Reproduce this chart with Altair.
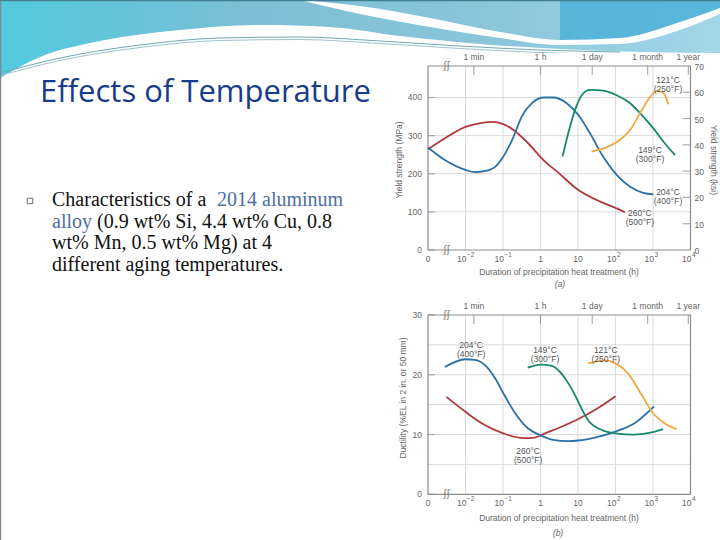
import altair as alt
import pandas as pd

# ------------------------------------------------------------------ data
# Heat-treatment time is expressed in decades of hours (log10 t);
# -3 stands for t = 0 at the left end of the broken time axis.
TEMPS_C = ["260°C", "204°C", "149°C", "121°C"]
TEMPS_F = ["(500°F)", "(400°F)", "(300°F)", "(250°F)"]
COLORS = ["#b0383d", "#2b70a6", "#16896d", "#f1a946"]

# (a) yield strength, MPa
YS_260_T = [-3.0, -2.55, -2.0, -1.6, -1.3, -0.99, -0.72, -0.33, 0.12, 0.45, 1.0, 1.5, 2.03, 2.25]
YS_260_V = [264, 293, 323, 333, 336, 330, 315, 280, 232, 205, 158, 131, 109, 99]
YS_204_T = [-3.0, -2.55, -2.0, -1.75, -1.44, -1.21, -0.99, -0.72, -0.5, -0.23, 0.1, 0.34,
            0.7, 1.01, 1.32, 1.67, 2.03, 2.39, 2.74, 3.01]
YS_204_V = [269, 236, 210, 204, 208, 218, 245, 297, 350, 385, 400, 400,
            385, 354, 306, 245, 197, 166, 150, 146]
YS_149_T = [0.59, 0.74, 0.92, 1.1, 1.32, 1.67, 2.03, 2.39, 2.74, 3.01, 3.28, 3.59]
YS_149_V = [246, 306, 367, 406, 420, 418, 406, 385, 350, 319, 284, 249]
YS_121_T = [1.36, 1.76, 2.12, 2.39, 2.65, 2.88, 3.1, 3.23, 3.32, 3.41]
YS_121_V = [258, 269, 289, 315, 358, 395, 417, 415, 406, 382]

# (b) ductility, %EL
EL_260_T = [-2.51, -2.0, -1.57, -0.99, -0.46, -0.15, 0.12, 0.56, 1.01, 1.45, 2.0]
EL_260_V = [16.3, 13.8, 11.9, 10.2, 9.4, 9.5, 10.2, 11.3, 12.6, 14.1, 16.4]
EL_204_T = [-2.55, -2.0, -1.75, -1.48, -1.21, -0.99, -0.68, -0.33, -0.01, 0.34, 0.74,
            1.01, 1.45, 2.0, 2.51, 3.03]
EL_204_V = [21.3, 22.6, 22.5, 21.6, 19.4, 16.9, 13.6, 11.0, 9.9, 9.1, 8.9,
            9.0, 9.5, 10.5, 11.9, 14.7]
EL_149_T = [-0.34, 0.01, 0.3, 0.56, 0.74, 0.92, 1.09, 1.27, 1.62, 2.0, 2.51, 3.0, 3.27]
EL_149_V = [21.2, 21.7, 21.5, 20.2, 18.6, 16.6, 14.4, 12.4, 10.8, 10.2, 10.0, 10.4, 10.9]
EL_121_T = [1.27, 1.72, 2.0, 2.34, 2.7, 3.0, 3.31, 3.63]
EL_121_V = [21.9, 22.4, 21.9, 20.2, 16.6, 13.6, 11.9, 10.9]

# curve annotations (anchor in data units), order as TEMPS_C
LBL_A_T = [2.65, 3.40, 2.92, 3.40]
LBL_A_V = [98, 152, 261, 447]
LBL_B_T = [-0.33, -1.85, 0.12, 1.74]
LBL_B_V = [7.3, 24.9, 24.2, 24.2]

# axes
DECADES = [-2, -1, 0, 1, 2, 3]
X_TICK_POS = [-3, -2, -1, 0, 1, 2, 3, 4]
X_TICK_BASE = ["0", "10", "10", "1", "10", "10", "10", "10"]
X_TICK_SUP = ["", "−2", "−1", "", "", "2", "3", "4"]
TIME_HOURS = [1 / 60, 1, 24, 24 * 30, 24 * 365]
TIME_NAMES = ["1 min", "1 h", "1 day", "1 month", "1 year"]
YS_TICKS = [0, 100, 200, 300, 400]
YS_GRID = [100, 200, 300, 400]
YS_MAX = 482.6  # 70 ksi
KSI_TICKS = [0, 10, 20, 30, 40, 50, 60, 70]
EL_TICKS = [0, 10, 20, 30]
EL_GRID = [5, 10, 15, 20, 25]
EL_MAX = 30

# slide header profile
HDR_X = [0, 40, 100, 180, 260, 330, 400, 480, 560, 640, 720]
HDR_BOTTOM = [78, 57, 41, 30, 25, 27, 36, 44, 49, 52, 53]
STREAK_X = [300, 360, 430, 500, 560, 620, 680, 720]
STREAK_TOP = [0, 6, 18, 32, 40, 38, 22, 8]
STREAK_BOTTOM = [0, 14, 27, 38, 45, 44, 30, 14]
SWOOSH_X = [0, 60, 140, 220, 300, 380, 460, 540, 620]
SWOOSH_Y = [73, 58, 45, 38, 37, 41, 46, 50, 52]

TITLE = "Effects of Temperature"

# ------------------------------------------------------------------ scales
XS = alt.Scale(domain=[-3, 4], range=[428, 690.5], nice=False, zero=False)
YA = alt.Scale(domain=[0, YS_MAX], range=[250, 66], nice=False, zero=False)
YB = alt.Scale(domain=[0, EL_MAX], range=[494.3, 315], nice=False, zero=False)
PX = alt.Scale(domain=[0, 720], range=[0, 720], nice=False, zero=False)
PY = alt.Scale(domain=[0, 540], range=[0, 540], nice=False, zero=False)

GRID = "#dadada"
FRAME = "#8c8c8c"
INK = "#666666"
FONT = "Liberation Sans Narrow, Liberation Sans, sans-serif"


def xq(field, sc=XS):
    return alt.X(f"{field}:Q", scale=sc, axis=None)


def yq(field, sc):
    return alt.Y(f"{field}:Q", scale=sc, axis=None)


def long_df(pairs):
    rows = []
    for name, ts, vs in pairs:
        for t, v in zip(ts, vs):
            rows.append({"series": name, "t": t, "v": v})
    return pd.DataFrame(rows)


def caption(text, x, y, angle=0, size=8.5, style="normal", color=INK):
    return alt.Chart(pd.DataFrame({"label": [text]})).mark_text(
        angle=angle, fontSize=size, font=FONT, fontStyle=style, color=color,
        align="center", baseline="middle",
    ).encode(x=alt.value(x), y=alt.value(y), text="label:N")


def panel(curves, ysc, ymax, ygrid, yticks, lbl_t, lbl_v):
    layers = []
    vgrid = pd.DataFrame({"t": DECADES, "lo": 0, "hi": ymax})
    layers.append(alt.Chart(vgrid).mark_rule(color=GRID, strokeWidth=1).encode(
        x=xq("t"), y=yq("lo", ysc), y2="hi:Q"))
    hgrid = pd.DataFrame({"v": ygrid, "l": -3, "r": 4})
    layers.append(alt.Chart(hgrid).mark_rule(color=GRID, strokeWidth=1).encode(
        x=xq("l"), x2="r:Q", y=yq("v", ysc)))
    frame = pd.DataFrame({"l": [-3], "r": [4], "lo": [0], "hi": [ymax]})
    layers.append(alt.Chart(frame).mark_rect(fillOpacity=0, stroke=FRAME, strokeWidth=1.2).encode(
        x=xq("l"), x2="r:Q", y=yq("lo", ysc), y2="hi:Q"))

    # left axis ticks + labels
    lt = pd.DataFrame({"v": yticks, "l": -3, "lab": [str(v) for v in yticks]})
    layers.append(alt.Chart(lt).mark_tick(orient="horizontal", size=7, thickness=1.2,
                                          xOffset=3.5, color=FRAME).encode(
        x=xq("l"), y=yq("v", ysc)))
    layers.append(alt.Chart(lt).mark_text(align="right", baseline="middle", dx=-6,
                                          fontSize=8.5, font=FONT, color=INK).encode(
        x=xq("l"), y=yq("v", ysc), text="lab:N"))

    # bottom axis labels with superscript exponents
    bt = pd.DataFrame({"t": X_TICK_POS, "base": X_TICK_BASE, "sup": X_TICK_SUP, "lo": 0})
    layers.append(alt.Chart(bt).transform_filter("datum.sup == ''").mark_text(
        align="center", baseline="top", dy=5, fontSize=8.5, font=FONT, color=INK).encode(
        x=xq("t"), y=yq("lo", ysc), text="base:N"))
    layers.append(alt.Chart(bt).transform_filter("datum.sup != ''").mark_text(
        align="right", baseline="top", dx=1, dy=5, fontSize=8.5, font=FONT, color=INK).encode(
        x=xq("t"), y=yq("lo", ysc), text="base:N"))
    layers.append(alt.Chart(bt).transform_filter("datum.sup != ''").mark_text(
        align="left", baseline="top", dx=1.5, dy=2, fontSize=6.5, font=FONT, color=INK).encode(
        x=xq("t"), y=yq("lo", ysc), text="sup:N"))

    # top time scale
    tt = pd.DataFrame({"hours": TIME_HOURS, "name": TIME_NAMES, "hi": ymax})
    top = alt.Chart(tt).transform_calculate(t="log(datum.hours) / LN10")
    layers.append(top.mark_tick(orient="vertical", size=9, thickness=1.2, yOffset=4.5,
                                color=FRAME).encode(x=xq("t"), y=yq("hi", ysc)))
    layers.append(top.mark_text(baseline="bottom", dy=-4, fontSize=8.5, font=FONT,
                                color=INK).encode(x=xq("t"), y=yq("hi", ysc), text="name:N"))

    # axis-break marks
    br = pd.DataFrame({"t": [-2.5, -2.5], "v": [0, ymax], "s": ["ʃʃ", "ʃʃ"]})
    layers.append(alt.Chart(br).mark_text(baseline="middle", fontSize=10, color="#777",
                                          font="DejaVu Sans").encode(
        x=xq("t"), y=yq("v", ysc), text="s:N"))

    # curves
    layers.append(alt.Chart(curves).mark_line(interpolate="monotone", strokeWidth=1.8).encode(
        x=xq("t"), y=yq("v", ysc),
        color=alt.Color("series:N", scale=alt.Scale(domain=TEMPS_C, range=COLORS), legend=None),
        detail="series:N"))

    lab = pd.DataFrame({"t": lbl_t, "v": lbl_v,
                        "txt": [c + "\n" + f for c, f in zip(TEMPS_C, TEMPS_F)]})
    layers.append(alt.Chart(lab).mark_text(lineBreak="\n", lineHeight=9, fontSize=8.5,
                                           font=FONT, color="#555555").encode(
        x=xq("t"), y=yq("v", ysc), text="txt:N"))
    return layers


# ------------------------------------------------------------------ panel (a)
curves_a = long_df([("260°C", YS_260_T, YS_260_V), ("204°C", YS_204_T, YS_204_V),
                    ("149°C", YS_149_T, YS_149_V), ("121°C", YS_121_T, YS_121_V)])
layers_a = panel(curves_a, YA, YS_MAX, YS_GRID, YS_TICKS, LBL_A_T, LBL_A_V)

ksi = alt.Chart(pd.DataFrame({"ksi": KSI_TICKS, "r": 4})).transform_calculate(
    v="datum.ksi * 6.894757", lab="'' + datum.ksi")
layers_a.append(ksi.transform_filter("datum.ksi > 0 && datum.ksi < 70").mark_tick(
    orient="horizontal", size=8, thickness=1.2, xOffset=-4, color=FRAME).encode(
    x=xq("r"), y=yq("v", YA)))
layers_a.append(ksi.mark_text(align="left", baseline="middle", dx=4, dy=1, fontSize=8.5,
                              font=FONT, color=INK).encode(
    x=xq("r"), y=yq("v", YA), text="lab:N"))
layers_a += [
    caption("Yield strength (MPa)", 399, 160, angle=270),
    caption("Yield strength (ksi)", 714, 160, angle=90),
    caption("Duration of precipitation heat treatment (h)", 559, 272),
    caption("(a)", 560, 284, style="italic"),
]

# ------------------------------------------------------------------ panel (b)
curves_b = long_df([("260°C", EL_260_T, EL_260_V), ("204°C", EL_204_T, EL_204_V),
                    ("149°C", EL_149_T, EL_149_V), ("121°C", EL_121_T, EL_121_V)])
layers_b = panel(curves_b, YB, EL_MAX, EL_GRID, EL_TICKS, LBL_B_T, LBL_B_V)
layers_b += [
    caption("Ductility (%EL in 2 in. or 50 mm)", 403, 398, angle=270),
    caption("Duration of precipitation heat treatment (h)", 559, 518),
    caption("(b)", 558, 533, style="italic"),
]

# ------------------------------------------------------------------ slide
hdr = pd.DataFrame({"x": HDR_X, "y": HDR_BOTTOM})
header = alt.Chart(hdr).mark_area(
    interpolate="monotone",
    color=alt.Gradient(gradient="linear", x1=0, x2=1, y1=0, y2=0, stops=[
        alt.GradientStop(color="#52cadd", offset=0),
        alt.GradientStop(color="#7cbfd4", offset=0.35),
        alt.GradientStop(color="#8cc6db", offset=0.7),
        alt.GradientStop(color="#a3d7ea", offset=1)]),
).encode(x=xq("x", PX), y=yq("y", PY), y2=alt.value(0))

stk = pd.DataFrame({"x": STREAK_X, "top": STREAK_TOP, "bot": STREAK_BOTTOM})
streak_blue = alt.Chart(stk).transform_filter("datum.x >= 560").mark_area(
    interpolate="monotone", color="#4fb0d8", opacity=0.85).encode(
    x=xq("x", PX), y=yq("bot", PY), y2=alt.value(53))
streak = alt.Chart(stk).mark_area(interpolate="monotone", color="white").encode(
    x=xq("x", PX), y=yq("top", PY), y2="bot:Q")

sw = pd.DataFrame({"x": SWOOSH_X, "y": SWOOSH_Y})
swoosh1 = alt.Chart(sw).mark_line(interpolate="monotone", color="#6fa7b6",
                                  strokeWidth=1).encode(x=xq("x", PX), y=yq("y", PY))
swoosh2 = alt.Chart(sw).mark_line(interpolate="monotone", color="#9cc4cf", strokeWidth=1,
                                  yOffset=2.5).encode(x=xq("x", PX), y=yq("y", PY))

# white panel carrying the graphs
panel_bg = alt.Chart(pd.DataFrame({"a": [0]})).mark_rect(color="white").encode(
    x=alt.value(395), x2=alt.value(720), y=alt.value(53), y2=alt.value(540))

border = alt.Chart(pd.DataFrame({"a": [0]})).mark_rule(color="#7d8a8f", strokeWidth=1.5).encode(
    x=alt.value(0.5), y=alt.value(0), y2=alt.value(540))
top_border = alt.Chart(pd.DataFrame({"a": [0]})).mark_rule(color="#3f7f8f", strokeWidth=1.5).encode(
    x=alt.value(0), x2=alt.value(720), y=alt.value(0.5))

title = alt.Chart(pd.DataFrame({"t": [TITLE]})).mark_text(
    align="left", baseline="alphabetic", font="Open Sans", fontSize=31, color="#173c8a").encode(
    x=alt.value(40), y=alt.value(102), text="t:N")

BODY_FONT = "Liberation Serif"
BODY_SIZE = 20
BLUE_TXT = "#4a6ea6"


def body(text, x, y, color="#111111"):
    return alt.Chart(pd.DataFrame({"t": [text]})).mark_text(
        align="left", baseline="alphabetic", font=BODY_FONT, fontSize=BODY_SIZE,
        color=color).encode(x=alt.value(x), y=alt.value(y), text="t:N")


bullet = alt.Chart(pd.DataFrame({"a": [0]})).mark_point(
    shape="square", size=30, filled=False, color="#333333", strokeWidth=1).encode(
    x=alt.value(30), y=alt.value(201))

text_layers = [
    bullet,
    body("Characteristics of a", 52, 206),
    body("2014 aluminum", 217, 206, BLUE_TXT),
    body("alloy", 52, 227.5, BLUE_TXT),
    body("(0.9 wt% Si, 4.4 wt% Cu, 0.8", 97, 227.5),
    body("wt% Mn, 0.5 wt% Mg) at 4", 52, 249),
    body("different aging temperatures.", 52, 270.5),
]

chart = alt.layer(
    header, streak_blue, streak, swoosh1, swoosh2, panel_bg, border, top_border, title,
    *text_layers, *layers_a, *layers_b,
).resolve_scale(x="independent", y="independent").properties(
    width=720, height=540, autosize=alt.AutoSizeParams(type="none"), padding=0,
    background="white",
).configure_view(strokeWidth=0)

chart.save("out.html", embed_options={"renderer": "svg", "actions": False})
